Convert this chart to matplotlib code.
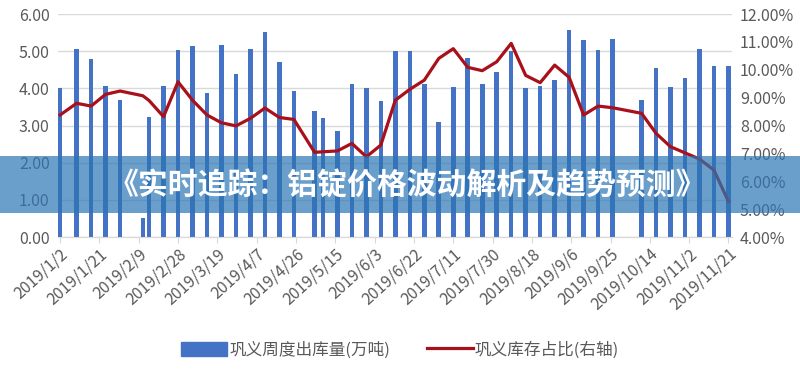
import pandas as pd
import matplotlib
matplotlib.use('Agg')
import matplotlib.pyplot as plt
import matplotlib.dates as mdates
from matplotlib.patches import Rectangle
from matplotlib.lines import Line2D
from matplotlib.ticker import FixedLocator

plt.rcParams['font.family'] = ['Noto Sans CJK SC', 'DejaVu Sans']

# weekly dates (2019)
dates = ['1/2', '1/10', '1/17', '1/24', '1/31', '2/11', '2/14', '2/21', '2/28', '3/7',
         '3/14', '3/21', '3/28', '4/4', '4/11', '4/18', '4/25', '5/5', '5/9', '5/16',
         '5/23', '5/30', '6/6', '6/13', '6/20', '6/27', '7/4', '7/11', '7/18', '7/25',
         '8/1', '8/8', '8/15', '8/22', '8/29', '9/5', '9/12', '9/19', '9/26', '10/10',
         '10/17', '10/24', '10/31', '11/7', '11/14', '11/21']

# 巩义周度出库量(万吨)
outflow = [4.00, 5.05, 4.78, 4.07, 3.68, 0.50, 3.24, 4.07, 5.03, 5.15,
           3.88, 5.18, 4.39, 5.05, 5.51, 4.70, 3.93, 3.40, 3.20, 2.86,
           4.12, 4.00, 3.66, 5.02, 5.00, 4.13, 3.10, 4.04, 4.83, 4.12,
           4.44, 5.01, 4.00, 4.06, 4.22, 5.56, 5.31, 5.03, 5.34, 3.69,
           4.56, 4.05, 4.27, 5.05, 4.61, 4.59]

# 巩义库存占比 (%)
share = [8.38, 8.80, 8.70, 9.12, 9.24, 9.07, 8.90, 8.32, 9.57, 8.91,
         8.38, 8.10, 7.99, 8.26, 8.63, 8.29, 8.22, 7.04, 7.06, 7.09,
         7.36, 6.88, 7.30, 8.91, 9.30, 9.63, 10.41, 10.76, 10.09, 9.97,
         10.29, 10.95, 9.80, 9.54, 10.17, 9.73, 8.38, 8.70, 8.64, 8.44,
         7.72, 7.24, 7.02, 6.80, 6.40, 5.27]

tick_labels = ['2019/1/2', '2019/1/21', '2019/2/9', '2019/2/28', '2019/3/19', '2019/4/7',
               '2019/4/26', '2019/5/15', '2019/6/3', '2019/6/22', '2019/7/11', '2019/7/30',
               '2019/8/18', '2019/9/6', '2019/9/25', '2019/10/14', '2019/11/2', '2019/11/21']

title = '《实时追踪：铝锭价格波动解析及趋势预测》'

x = pd.to_datetime(['2019/' + d for d in dates])
ticks = pd.to_datetime(tick_labels)

grey = '#595959'
bar_color = '#4472C4'
line_color = '#A8101A'

fig = plt.figure(figsize=(8, 3.71), dpi=100)
ax = fig.add_axes([0.0725, 0.361, 0.842, 0.601])
ax2 = ax.twinx()

ax.bar(x, outflow, width=2.2, color=bar_color, zorder=3)
ax2.plot(x, share, color=line_color, lw=2.3, zorder=4)

ax.set_ylim(0, 6)
ax.set_yticks(range(0, 7))
ax.set_yticklabels([f'{v:.2f}' for v in range(0, 7)])
ax2.set_ylim(4, 12)
ax2.set_yticks(range(4, 13))
ax2.set_yticklabels([f'{v:.2f}%' for v in range(4, 13)])

ax.set_xlim(ticks[0] - pd.Timedelta(days=1), ticks[-1] + pd.Timedelta(days=1.5))
ax.xaxis.set_major_locator(FixedLocator(mdates.date2num(ticks)))
ax.set_xticklabels(tick_labels, rotation=42, ha='right', rotation_mode='anchor')

ax.grid(axis='y', color='#D9D9D9', lw=1, zorder=0)
ax.set_axisbelow(True)
for a in (ax, ax2):
    for s in ('top', 'left', 'right'):
        a.spines[s].set_visible(False)
    a.spines['bottom'].set_color('#D9D9D9')
ax.tick_params(axis='y', length=0, labelsize=11.5, labelcolor=grey, pad=6)
ax2.tick_params(axis='y', length=0, labelsize=11.5, labelcolor=grey, pad=6)
ax.tick_params(axis='x', length=4, color='#D9D9D9', labelsize=11.5, labelcolor=grey, pad=2)

handles = [Rectangle((0, 0), 1, 1, color=bar_color),
           Line2D([0], [0], color=line_color, lw=2.3)]
fig.legend(handles, ['巩义周度出库量(万吨)', '巩义库存占比(右轴)'],
           loc='center', bbox_to_anchor=(0.5, 0.057), ncol=2, frameon=False,
           fontsize=12, labelcolor=grey, handlelength=2.8, handleheight=0.9,
           handletextpad=0.1, columnspacing=2.2)

# semi-transparent title banner
fig.patches.append(Rectangle((0, 0.426), 1, 0.154, transform=fig.transFigure,
                             facecolor=(45/255, 118/255, 181/255), alpha=0.7, zorder=10))
fig.text(0.509, 0.499, title, color='white', fontsize=21.5, fontweight='bold',
         ha='center', va='center', zorder=11)

fig.savefig('out.png', dpi=100)
